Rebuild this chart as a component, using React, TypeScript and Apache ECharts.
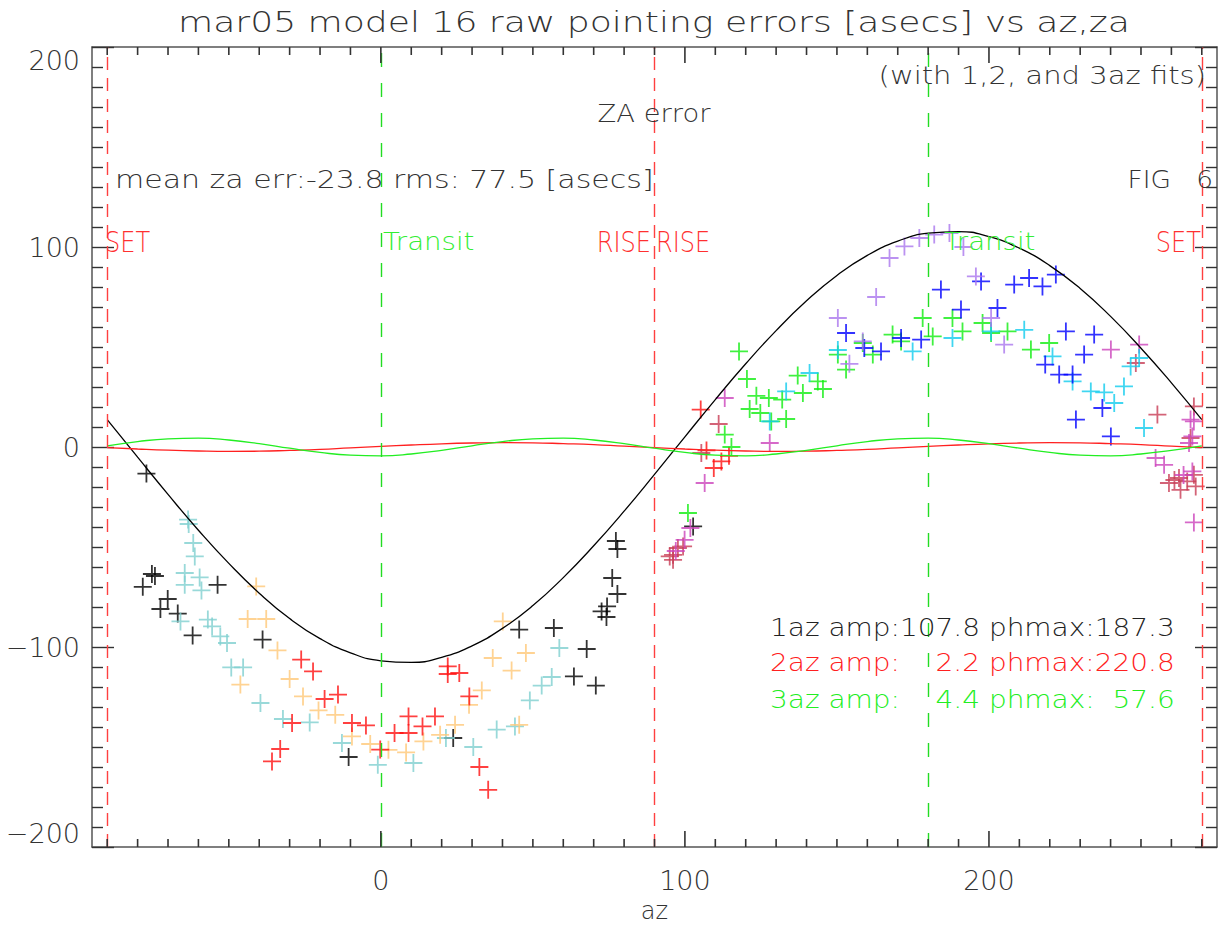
import React, { useEffect, useRef } from "react";
import * as echarts from "echarts";

// ---- scatter points (az [deg], za error [asecs]) ----
const blackPts = [
  [-77.1, -13.3], [-78.3, -69.9], [-75.3, -63.5], [-74.3, -64.5], [-70.1, -76], [-72.5, -81],
  [-66.8, -83.3], [-61.9, -94.2], [-53.7, -68.9], [-38.9, -96.3], [-10.6, -155], [23.8, -145.5],
  [45.5, -91.3], [56.9, -90.5], [67.7, -101], [63.5, -114.7], [70.7, -119.3], [76.1, -65.5],
  [77.8, -73.5], [72.6, -82.2], [74.4, -79.7], [74.2, -85], [77.3, -47], [77.8, -51], [102.7, -39.7],
];
const tealPts = [
  [-63.4, -36.3], [-63.2, -38.5], [-61.7, -48], [-61.2, -54.7], [-64.5, -63], [-64.5, -68.9],
  [-59.6, -65.2], [-59, -71.7], [-65.9, -87.2], [-56.9, -86.3], [-55.5, -89.7], [-52.8, -94.7],
  [-50.6, -98], [-49.2, -110.2], [-45.3, -110.2], [-39.6, -128], [-32.2, -136], [-23.4, -137.7],
  [-12.8, -148], [-1, -158.9], [10.7, -158], [21.4, -145.5], [30.4, -150], [38.1, -141.3],
  [44.1, -139.7], [49, -126.7], [52.9, -119.3], [56.2, -115], [58.7, -100.5],
];
const orangePts = [
  [-41, -69.7], [-43.8, -86], [-37.7, -86], [-34, -101.7], [-30, -116], [-46.2, -118.8],
  [-25.6, -124.7], [-20.5, -131.7], [-15, -133.9], [-9.5, -144.7], [-3.5, -148.5], [2.5, -151.4],
  [8.3, -152.7], [14, -147.2], [19.5, -143.9], [24.4, -138.9], [29, -128.9], [33.2, -121.7],
  [36.8, -105.5], [40.1, -87.2], [43, -111.8], [47.7, -103], [45.5, -138.9],
];
const redPts = [
  [-26.2, -106.3], [-22.3, -112.2], [-18.5, -126], [-14.1, -123.8], [-9.5, -138], [-4.9, -139.2],
  [-29.2, -138], [-33.1, -151], [-35.8, -157.2], [4.5, -143], [9.1, -134.7], [9.1, -143],
  [13.7, -139.7], [17.8, -134.7], [-0.2, -151.3], [22, -109.7], [22, -113.5], [25.8, -113],
  [29.1, -124.7], [32.4, -160], [35.3, -171.4],
  [105.2, 18.7], [107.1, -1.7], [109.5, -10.5], [112, -7.2], [114.5, -4.4],
];
const crimsonPts = [
  [95, -54.7], [96.1, -56.4], [97.7, -50.5], [99.4, -49.7], [96.1, -53.9], [105.4, -3], [111.1, 11.5],
  [266.3, 4.5], [259.2, -18], [263, -21.4], [265.2, -17.2], [262.5, -15.5], [268, -19.7],
  [267.4, -13.9], [267.4, 20.3], [255.4, 16.2], [248.3, 42], [261, -16.5],
];
const magentaPts = [
  [99.9, -46.4], [101.8, -40.5], [106.5, -18], [113.1, 24.5], [127.9, 2], [97, -52],
  [254.8, -5.5], [257.6, -8.9], [265.8, 2], [267.4, 12.8], [266.9, -12.2], [267.4, -37.7],
  [266.3, 13.7], [266.9, 5.3], [249.4, 51.2], [240.1, 48.7], [264, -14],
];
const greenPts = [
  [117.8, 47.8], [120.4, 34], [123.5, 25.6], [127.6, 24.5], [121.3, 19], [124.8, 17], [132, 23.7],
  [128.4, 12.8], [133.3, 14], [137.1, 35.7], [138.8, 27], [143.7, 32.8], [145.4, 29], [113.1, 6.2],
  [115.3, 0], [101, -33], [150.3, 46.2], [153, 38.7], [158.5, 52], [161.8, 46.2], [168.3, 56.2],
  [171.1, 52.8], [178.2, 64.5], [181.5, 55.3], [188, 64.5], [191.3, 57.8], [197.9, 62], [200.7, 57],
  [206.1, 57.8], [213.8, 48.7], [219.8, 52],
];
const cyanPts = [
  [133.3, 27.8], [141, 37], [127.9, 12.8], [150.3, 48.5], [174.9, 47.8], [188, 54.5], [200.7, 57.8],
  [211.6, 58.6], [220.9, 45.3], [227.5, 32.8], [233.5, 27.8], [237.9, 27.3], [241.2, 22],
  [244.4, 30.3], [246.6, 40.3], [249.4, 44.5], [251, 9.5],
];
const bluePts = [
  [153, 57], [159, 49.5], [164.5, 47.8], [171.1, 54.5], [177.7, 53.7], [184.2, 78.7], [190.8, 68.7],
  [197.4, 82.8], [202.8, 69.5], [208.3, 81.2], [213.2, 84.5], [217.6, 80.3], [222, 86.2],
  [225.3, 57.8], [234.6, 56.2], [231.3, 46.2], [218.5, 41.2], [223.1, 36.2], [227.5, 36.2],
  [237.3, 19.5], [228.6, 13.7], [240.1, 5.3],
];
const purplePts = [
  [150.3, 64.5], [154.1, 41.6], [158.5, 52.8], [162.9, 75], [167.3, 94.5], [172.2, 100.3],
  [177.1, 104.5], [182, 106.2], [187, 107], [191.6, 100], [195.7, 85.3], [200.7, 64.5], [205, 51.2],
];

// ---- fit curves, read every 10 deg of az from -90 to 270 ----
const fitAz = [
  -90, -80, -70, -60, -50, -40, -30, -20, -10, 0, 10, 20, 30, 40, 50, 60, 70, 80, 90,
  100, 110, 120, 130, 140, 150, 160, 170, 180, 190, 200, 210, 220, 230, 240, 250, 260, 270,
];
const fit1az = [
  13.7, -5.1, -23.7, -41.6, -58.2, -73.1, -85.8, -95.8, -102.9, -106.9, -107.7, -105.2, -99.4,
  -90.7, -79.3, -65.3, -49.4, -32.1, -13.7, 5.1, 23.7, 41.6, 58.2, 73.1, 85.8, 95.8, 102.9,
  106.9, 107.7, 105.2, 99.4, 90.7, 79.3, 65.3, 49.4, 32.1, 13.7,
];
const fit2az = [
  -0.3, -1.0, -1.6, -2.0, -2.2, -2.1, -1.7, -1.2, -0.4, 0.3, 1.0, 1.6, 2.0, 2.2, 2.1, 1.7, 1.2, 0.4,
  -0.3, -1.0, -1.6, -2.0, -2.2, -2.1, -1.7, -1.2, -0.4, 0.3, 1.0, 1.6, 2.0, 2.2, 2.1, 1.7, 1.2, 0.4,
  -0.3,
];
const fit3az = [
  0.6, 2.7, 4.1, 4.4, 3.5, 1.7, -0.6, -2.7, -4.1, -4.4, -3.5, -1.7,
  0.6, 2.7, 4.1, 4.4, 3.5, 1.7, -0.6, -2.7, -4.1, -4.4, -3.5, -1.7,
  0.6, 2.7, 4.1, 4.4, 3.5, 1.7, -0.6, -2.7, -4.1, -4.4, -3.5, -1.7,
  0.6,
];

// ---- axes ----
const xRange = [-95, 275];
const xMajorRange = [0, 200]; // labelled ticks every 100
const xMajorTicks = [0, 100, 200];
const xMinorTicks = [
  -90, -80, -70, -60, -50, -40, -30, -20, -10, 10, 20, 30, 40, 50, 60, 70, 80, 90, 110,
  120, 130, 140, 150, 160, 170, 180, 190, 210, 220, 230, 240, 250, 260, 270,
];
const yRange = [-200, 200];
const setRiseAz = [-90, 90, 270];
const transitAz = [0, 180];

const FONT = '"DejaVu Sans"';
const TXT = "#333";
const PLUS =
  "path://M9,0 L11,0 L11,9 L20,9 L20,11 L11,11 L11,20 L9,20 L9,11 L0,11 L0,9 L9,9 Z";

export default function App() {
  const ref = useRef<HTMLDivElement>(null);
  useEffect(() => {
    document.body.style.margin = "0";
    const chart = echarts.init(ref.current!, null, { renderer: "svg" });

    const G = { left: 92, top: 47, width: 1125, height: 800, containLabel: false, outerBoundsMode: "none" };
    const k = G.width / (xRange[1] - xRange[0]);
    const labelGrid = {
      left: G.left + (xMajorRange[0] - xRange[0]) * k,
      top: G.top,
      width: (xMajorRange[1] - xMajorRange[0]) * k,
      height: G.height,
      containLabel: false,
      outerBoundsMode: "none",
    };

    const axisLine = { show: true, onZero: false, lineStyle: { color: "#555", width: 1.5 } };
    const tickStyle = { color: "#333", width: 1.4 };
    const labelFont = { fontSize: 27, color: TXT, fontFamily: FONT, fontWeight: 200 };

    const xAxes = [
      {
        type: "value", gridIndex: 0, position: "bottom", min: xRange[0], max: xRange[1],
        splitLine: { show: false }, axisLine, axisTick: { show: false }, axisLabel: { show: false },
        name: "az", nameLocation: "middle", nameGap: 52,
        nameTextStyle: { fontSize: 24, color: TXT, fontFamily: FONT, fontWeight: 200 },
      },
      {
        type: "value", gridIndex: 0, position: "top", min: xRange[0], max: xRange[1],
        splitLine: { show: false }, axisLine, axisTick: { show: false }, axisLabel: { show: false },
      },
      {
        type: "value", gridIndex: 1, position: "bottom", min: xMajorRange[0], max: xMajorRange[1], interval: 100,
        splitLine: { show: false }, axisLine: { show: false, onZero: false }, axisTick: { show: false },
        axisLabel: { show: true, margin: 20, ...labelFont },
      },
    ];

    const yBase = {
      type: "value",
      gridIndex: 0,
      min: yRange[0],
      max: yRange[1],
      interval: 100,
      splitLine: { show: false },
      axisLine,
      axisTick: { show: true, inside: true, length: 22, lineStyle: tickStyle },
      minorTick: { show: true, splitNumber: 10, length: 11, lineStyle: tickStyle },
    };
    const yAxes = [
      {
        ...yBase,
        position: "left",
        axisLabel: {
          show: true,
          margin: 12,
          ...labelFont,
          verticalAlignMaxLabel: "top",
          verticalAlignMinLabel: "bottom",
          formatter: (v: number) => (v < 0 ? "\u2212" + Math.abs(v) : String(v)),
        },
      },
      { ...yBase, position: "right", axisLabel: { show: false } },
      { type: "value", gridIndex: 1, min: yRange[0], max: yRange[1], show: false },
    ];

    // x-axis ticks on the bottom and top frame edges, placed through the x scale
    const xTickSeries = (name: string, values: number[], len: number) => ({
      name,
      type: "custom",
      xAxisIndex: 0,
      yAxisIndex: 0,
      silent: true,
      clip: false,
      z: 5,
      data: values.map((v) => [v, 0]),
      renderItem: (_p: any, api: any) => {
        const b = api.coord([api.value(0), yRange[0]]);
        const t = api.coord([api.value(0), yRange[1]]);
        const w = 1.6;
        return {
          type: "group",
          children: [
            { type: "rect", shape: { x: b[0] - w / 2, y: b[1] - len, width: w, height: len }, style: { fill: "#333" } },
            { type: "rect", shape: { x: t[0] - w / 2, y: t[1], width: w, height: len }, style: { fill: "#333" } },
          ],
        };
      },
    });

    const scatter = (name: string, data: number[][], color: string) => ({
      name,
      type: "scatter",
      data,
      symbol: PLUS,
      symbolSize: 18,
      itemStyle: { color },
      z: 3,
    });

    const fitData = (vals: number[]) => fitAz.map((a, i) => [a, vals[i]]);
    const fitLine = (name: string, vals: number[], color: string, extra: any = {}) => ({
      name,
      type: "line",
      data: fitData(vals),
      showSymbol: false,
      smooth: 0.5,
      lineStyle: { color, width: 1.3 },
      z: 4,
      ...extra,
    });

    const markLine = {
      silent: true,
      symbol: ["none", "none"],
      label: { show: false },
      data: [
        ...setRiseAz.map((a) => ({ xAxis: a, lineStyle: { color: "#ff4040", type: [13, 8], width: 1.4 } })),
        ...transitAz.map((a) => ({ xAxis: a, lineStyle: { color: "#22dd22", type: [14, 16], width: 1.4 } })),
      ],
    };

    const txt = (text: string, x: number, y: number, fill: string, size: number, align: string, sx = 1) => ({
      type: "text",
      x,
      y,
      scaleX: sx,
      silent: true,
      z: 100,
      style: { text, fill, font: `200 ${size}px ${FONT}`, textAlign: align, textVerticalAlign: "middle" },
    });
    const FS = "\u2007";

    chart.setOption({
      animation: false,
      backgroundColor: "#fff",
      grid: [G, labelGrid],
      xAxis: xAxes,
      yAxis: yAxes,
      series: [
        scatter("black", blackPts, "#000000"),
        scatter("teal", tealPts, "#7fcfcf"),
        scatter("orange", orangePts, "#ffc878"),
        scatter("red", redPts, "#ff1010"),
        scatter("crimson", crimsonPts, "#c83c55"),
        scatter("magenta", magentaPts, "#cc44bb"),
        scatter("green", greenPts, "#10ee10"),
        scatter("cyan", cyanPts, "#10ccee"),
        scatter("blue", bluePts, "#0000ff"),
        scatter("purple", purplePts, "#aa77ee"),
        fitLine("1az fit", fit1az, "#000000", { markLine }),
        fitLine("2az fit", fit2az, "#ff2020"),
        fitLine("3az fit", fit3az, "#22ee22"),
        xTickSeries("x minor ticks", xMinorTicks, 8),
        xTickSeries("x major ticks", xMajorTicks, 16),
      ],
      graphic: [
        txt("mar05 model 16 raw pointing errors [asecs] vs az,za", 654, 22, TXT, 28, "center", 1.29),
        txt("(with 1,2, and 3az fits)", 1206, 75, TXT, 24, "right", 1.21),
        txt("ZA error", 654, 114, TXT, 24, "center", 1.14),
        txt("mean za err:-23.8 rms: 77.5 [asecs]", 115, 180, TXT, 24, "left", 1.25),
        txt("FIG   6", 1213, 180, TXT, 24, "right", 1.1),
        txt("SET", 105, 242, "#ff3030", 28, "left", 0.86),
        txt("Transit", 383, 242, "#33ee33", 24, "left", 1.15),
        txt("RISE", 651, 242, "#ff3030", 28, "right", 0.86),
        txt("RISE", 656, 242, "#ff3030", 28, "left", 0.86),
        txt("Transit", 944, 242, "#33ee33", 24, "left", 1.15),
        txt("SET", 1201, 242, "#ff3030", 28, "right", 0.86),
        txt("1az amp:107.8 phmax:187.3", 770, 628, "#222", 24, "left", 1.165),
        txt(`2az amp:${FS}${FS}2.2 phmax:220.8`, 770, 663, "#ff2020", 24, "left", 1.165),
        txt(`3az amp:${FS}${FS}4.4 phmax:${FS}57.6`, 770, 700, "#22ee22", 24, "left", 1.165),
      ],
    });
    return () => chart.dispose();
  }, []);
  return <div ref={ref} style={{ width: 1225, height: 930 }} />;
}
